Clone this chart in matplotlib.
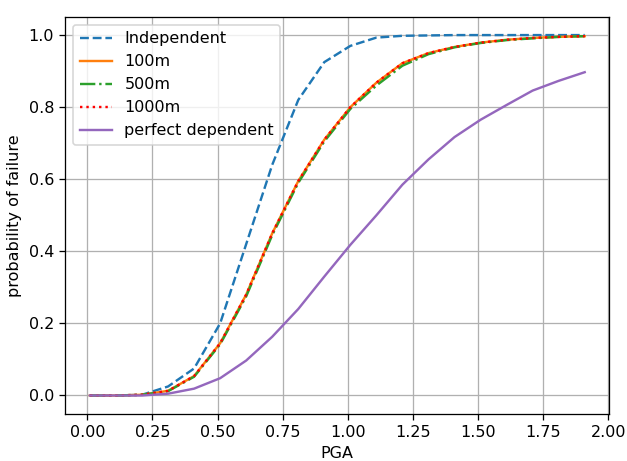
import numpy as np
import matplotlib
matplotlib.use("Agg")
import matplotlib.pyplot as plt

# PGA levels
pga = [0.01, 0.11, 0.21, 0.31, 0.41, 0.51, 0.61, 0.71, 0.81, 0.91,
       1.01, 1.11, 1.21, 1.31, 1.41, 1.51, 1.61, 1.71, 1.81, 1.91]

# probability of failure for each case
independent = [0.0, 0.0, 0.002, 0.025, 0.075, 0.20, 0.42, 0.64, 0.82, 0.925,
               0.97, 0.993, 0.998, 0.999, 1.0, 1.0, 1.0, 1.0, 1.0, 1.0]
d100 = [0.0, 0.0, 0.002, 0.013, 0.054, 0.145, 0.28, 0.45, 0.595, 0.71,
        0.80, 0.868, 0.922, 0.95, 0.967, 0.979, 0.987, 0.992, 0.995, 0.997]
d500 = [0.0, 0.0, 0.002, 0.012, 0.052, 0.142, 0.275, 0.445, 0.59, 0.705,
        0.795, 0.86, 0.915, 0.947, 0.966, 0.978, 0.986, 0.991, 0.995, 0.997]
d1000 = [0.0, 0.0, 0.002, 0.013, 0.054, 0.145, 0.28, 0.45, 0.595, 0.71,
         0.80, 0.868, 0.922, 0.95, 0.967, 0.979, 0.987, 0.992, 0.995, 0.997]
perfect = [0.0, 0.0, 0.0, 0.005, 0.019, 0.048, 0.097, 0.163, 0.24, 0.33,
           0.418, 0.50, 0.585, 0.655, 0.717, 0.765, 0.806, 0.846, 0.873, 0.897]

dpi = 115
fig, ax = plt.subplots(figsize=(627 / dpi, 461 / dpi), dpi=dpi)
fig.subplots_adjust(left=0.104, right=0.972, top=0.963, bottom=0.103)

ax.plot(pga, independent, '--', label='Independent')
ax.plot(pga, d100, '-', label='100m')
ax.plot(pga, d500, '-.', label='500m')
ax.plot(pga, d1000, ':', color='red', label='1000m')
ax.plot(pga, perfect, '-', color='tab:purple', label='perfect dependent')

ax.set_xlabel('PGA')
ax.set_ylabel('probability of failure')
ax.grid(True)
ax.legend(loc='upper left')

fig.savefig('out.png', dpi=dpi)
